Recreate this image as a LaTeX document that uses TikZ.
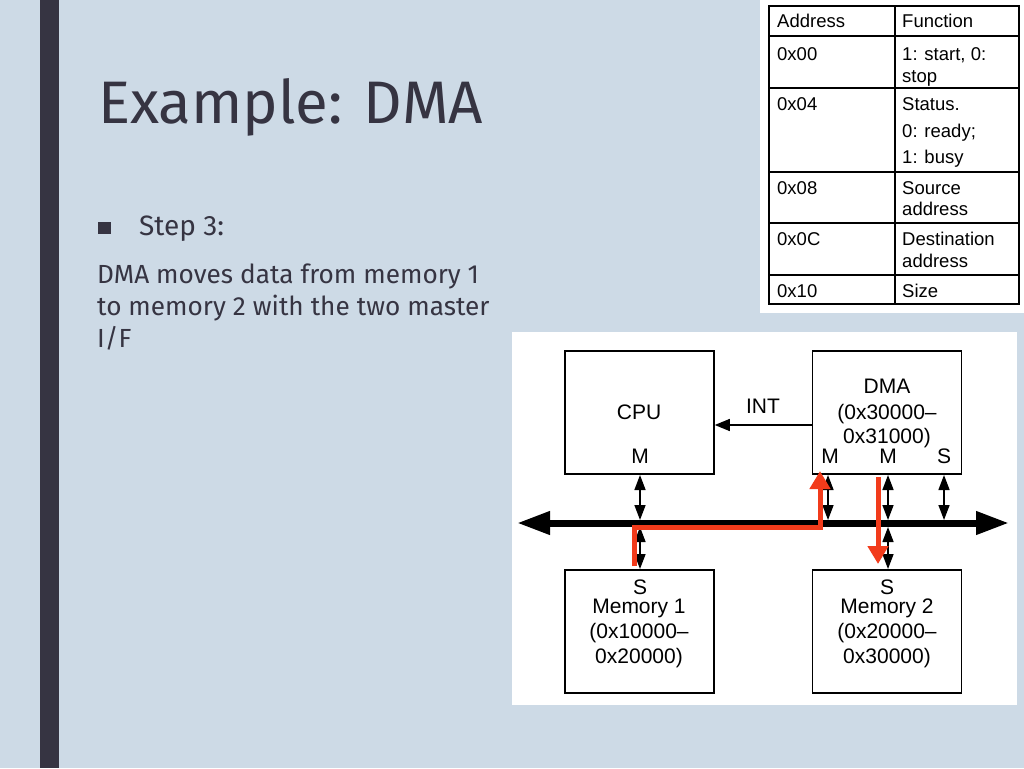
\documentclass[tikz,border=0pt]{standalone}
\usepackage{fontspec}
\setmainfont{Fira Sans}
\newfontfamily\arialf{Liberation Sans}
\usetikzlibrary{arrows.meta}
\definecolor{bg}{HTML}{CDDAE6}
\definecolor{barc}{HTML}{363442}
\definecolor{txt}{HTML}{363442}
\definecolor{redc}{HTML}{F23B1B}
\begin{document}
\begin{tikzpicture}[x=1pt,y=-1pt,
  tcell/.style={anchor=base west,inner sep=0pt,font=\arialf\fontsize{18.5}{22}\selectfont},
  blk/.style={draw,line width=1.5pt,minimum width=149pt,minimum height=123pt,inner sep=0pt},
  lbl/.style={anchor=base,inner sep=0pt,font=\arialf\fontsize{21}{25}\selectfont},
  dbl/.style={line width=1.5pt,{Triangle[length=15pt,width=11pt]}-{Triangle[length=15pt,width=11pt]}},
  redarrow/.style={redc,line width=5pt,-{Triangle[length=18pt,width=20pt]}},
  slide/.style={anchor=base west,inner sep=0pt,text=txt},
]
\useasboundingbox (0,0) rectangle (1024,768);
\fill[bg] (0,0) rectangle (1024,768);
\fill[barc] (40,0) rectangle (59,768);

% slide text
\node[slide,font=\fontsize{60}{70}\selectfont] (title) at (98,123) {Example: DMA};
\fill[txt] (98,222) rectangle (111,234);
\node[slide,font=\fontsize{28}{32}\selectfont] (step) at (139,235) {Step 3:};
\node[slide,font=\fontsize{26.2}{32}\selectfont] (b1) at (97,283) {DMA moves data from memory 1};
\node[slide,font=\fontsize{26.2}{32}\selectfont] (b2) at (97,315) {to memory 2 with the two master};
\node[slide,font=\fontsize{26.2}{32}\selectfont] (b3) at (97,347) {I/F};

% table
\fill[white] (760,0) rectangle (1024,313);
\foreach \yy in {36,88,172,223,275} \draw[line width=1.3pt] (769,\yy) -- (1019,\yy);
\draw[line width=1.3pt] (895,6) -- (895,304);
\draw[line width=2pt] (769,6) rectangle (1019,304);
\node[tcell] (h1) at (777,28) {Address};
\node[tcell] (h2) at (902,28) {Function};
\node[tcell] (a1) at (777,60) {0x00};
\node[tcell] (f1a) at (902,60) {1: start, 0:};
\node[tcell] (f1b) at (902,82) {stop};
\node[tcell] (a2) at (777,110) {0x04};
\node[tcell] (f2a) at (902,110) {Status.};
\node[tcell] (f2b) at (902,137) {0: ready;};
\node[tcell] (f2c) at (902,163) {1: busy};
\node[tcell] (a3) at (777,194) {0x08};
\node[tcell] (f3a) at (902,194) {Source};
\node[tcell] (f3b) at (902,215) {address};
\node[tcell] (a4) at (777,245) {0x0C};
\node[tcell] (f4a) at (902,245) {Destination};
\node[tcell] (f4b) at (902,267) {address};
\node[tcell] (a5) at (777,297) {0x10};
\node[tcell] (f5a) at (902,297) {Size};

% diagram panel
\fill[white] (512,332) rectangle (1017,705);
\node[blk] (cpu) at (639.5,412.5) {};
\node[blk] (dma) at (887,412.5) {};
\node[blk] (mem1) at (639.5,631.5) {};
\node[blk] (mem2) at (887,631.5) {};

\node[lbl] (cpul) at (639,419) {CPU};
\node[lbl] (cpum) at (640,463) {M};
\node[lbl] (dmal) at (887,393) {DMA};
\node[lbl] (dmal2) at (887,419) {(0x30000–};
\node[lbl] (dmal3) at (887,443) {0x31000)};
\node[lbl] (dmam1) at (830,463) {M};
\node[lbl] (dmam2) at (888,463) {M};
\node[lbl] (dmas) at (944,463) {S};
\node[lbl] (m1s) at (640,594) {S};
\node[lbl] (m1a) at (639,613) {Memory 1};
\node[lbl] (m1b) at (639,638) {(0x10000–};
\node[lbl] (m1c) at (639,663) {0x20000)};
\node[lbl] (m2s) at (887,594) {S};
\node[lbl] (m2a) at (887,613) {Memory 2};
\node[lbl] (m2b) at (887,638) {(0x20000–};
\node[lbl] (m2c) at (887,663) {0x30000)};
\node[lbl] (int) at (763,413) {INT};

% bus
\coordinate (busL) at (517,523);
\coordinate (busR) at (1009,523);
\draw[line width=7pt,{Triangle[length=33pt,width=22pt]}-{Triangle[length=33pt,width=22pt]}] (busL) -- (busR);

% INT
\draw[line width=1.3pt,-{Triangle[length=15pt,width=12pt]}] (dma.west |- 0,425) -- (cpu.east |- 0,425);

% bus connections
\draw[dbl] (640,475) -- (640,520);
\draw[dbl] (640,527) -- (640,569);
\draw[dbl] (828,475) -- (828,520);
\draw[dbl] (888,475) -- (888,520);
\draw[dbl] (944,475) -- (944,520);
\draw[dbl] (888,527) -- (888,569);

% red transfer path
\coordinate (r1) at (634,566);
\coordinate (r2) at (820,471);
\draw[redarrow] (r1) |- (820,527) -- (r2);
\coordinate (r3) at (878,477);
\coordinate (r4) at (878,564);
\draw[redarrow] (r3) -- (r4);
\end{tikzpicture}
\end{document}
